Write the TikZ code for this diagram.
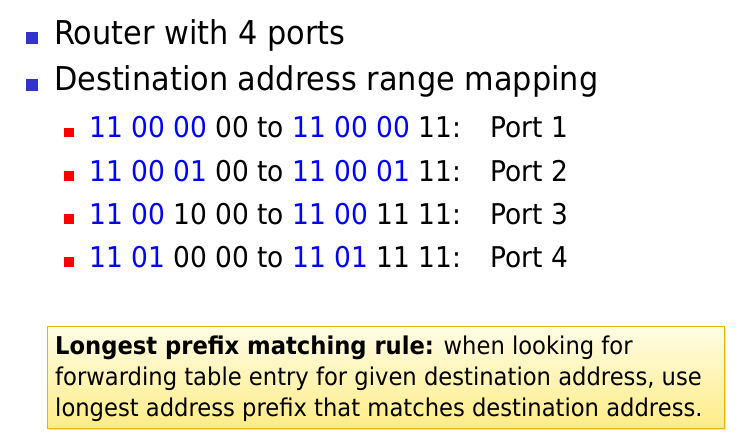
\documentclass[tikz,border=0pt]{standalone}
\usepackage{fontspec}
\setmainfont{DejaVu Sans}[FakeStretch=0.925]
\usepackage{tikz}
\usetikzlibrary{shadows}
\tikzstyle{Bbullet}=[shape=rectangle,fill=bulletblue,minimum size=11.5pt,inner sep=0pt]
\tikzstyle{Rbullet}=[shape=rectangle,fill=bulletred,minimum size=9.5pt,inner sep=0pt]
\tikzstyle{Ltext}=[anchor=base west,inner sep=0pt,font=\fontsize{32.8}{40}\selectfont]
\tikzstyle{Stext}=[anchor=base west,inner sep=0pt,font=\fontsize{28.6}{34}\selectfont]
\tikzstyle{Btext}=[anchor=base west,inner sep=0pt,font=\fontsize{24.5}{29}\selectfont]
\tikzstyle{Rulebox}=[shape=rectangle,anchor=north west,draw=boxline,line width=1pt,top color=boxtop,bottom color=boxbottom,drop shadow={opacity=0.25,shadow xshift=1pt,shadow yshift=-2pt}]
\definecolor{bulletblue}{RGB}{51,51,204}
\definecolor{bulletred}{RGB}{255,0,0}
\definecolor{addrblue}{RGB}{0,0,255}
\definecolor{boxtop}{RGB}{255,252,228}
\definecolor{boxbottom}{RGB}{255,236,135}
\definecolor{boxline}{RGB}{232,182,0}
\newcommand{\pfx}[1]{\textcolor{addrblue}{#1}}

\begin{document}
\begin{tikzpicture}[x=1pt,y=-1pt]

\useasboundingbox (0,0) rectangle (750,443);

\node[Bbullet] (B1) at (32,38){};
\node[Ltext] (ROUTER) at (54,45){Router with 4 ports};

\node[Bbullet] (B2) at (32,85){};
\node[Ltext] (MAPPING) at (54,91){Destination address range mapping};

\node[Rbullet] (R1) at (69,132.5){};
\node[Stext] (RANGE1) at (89,138){\pfx{11 00 00} 00 to \pfx{11 00 00} 11:};
\node[Stext] (PORT1) at (490,138){Port 1};

\node[Rbullet] (R2) at (69,176){};
\node[Stext] (RANGE2) at (89,181.5){\pfx{11 00 01} 00 to \pfx{11 00 01} 11:};
\node[Stext] (PORT2) at (490,181.5){Port 2};

\node[Rbullet] (R3) at (69,219){};
\node[Stext] (RANGE3) at (89,224.5){\pfx{11 00} 10 00 to \pfx{11 00} 11 11:};
\node[Stext] (PORT3) at (490,224.5){Port 3};

\node[Rbullet] (R4) at (69,262){};
\node[Stext] (RANGE4) at (89,267.5){\pfx{11 01} 00 00 to \pfx{11 01} 11 11:};
\node[Stext] (PORT4) at (490,267.5){Port 4};

\node[Rulebox,minimum width=677pt,minimum height=102pt] (RULE) at (47,326){};
\node[Btext] (LINE1) at (55,355){\textbf{Longest prefix matching rule:} when looking for};
\node[Btext] (LINE2) at (55,386){forwarding table entry for given destination address, use};
\node[Btext] (LINE3) at (55,417){longest address prefix that matches destination address.};

\end{tikzpicture}
\end{document}
